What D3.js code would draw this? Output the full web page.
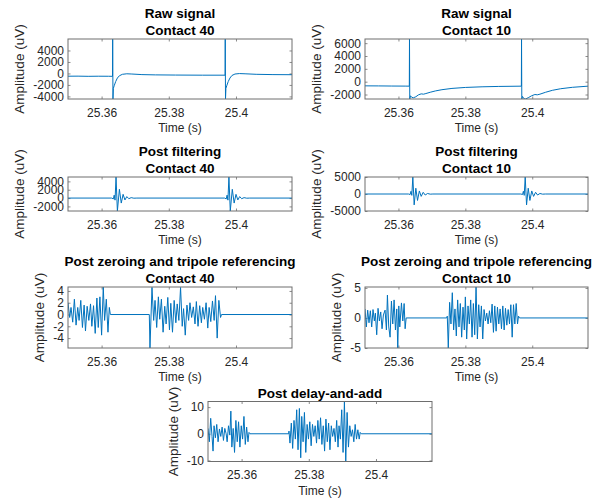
<!DOCTYPE html>
<html>
<head>
<meta charset="utf-8">
<script src="https://cdn.jsdelivr.net/npm/d3@7"></script>
<style>
  body { margin: 0; background: #fff; }
  text { font-family: "Liberation Sans", Arial, Helvetica, sans-serif; }
</style>
</head>
<body>
<div id="chart"></div>
<script>
const W = 602, H = 504;

// time axis (s)
const tStart = 25.35;
const tEnd = 25.41667;
const xTicks = [25.36, 25.38, 25.4];
const xTickLabels = ["25.36", "25.38", "25.4"];

// every series: [ms after 25.35 s, amplitude in uV]
const rawC40 = [[0,-480],[3,-470],[6,-500],[9,-480],[12,-490],[13.25,-500],[13.3,5980],[13.38,-4450],[13.5,-2600],
  [13.8,-2050],[14.2,-1400],[14.7,-800],[15.3,-400],[16.2,-150],[17.5,-60],[19,-100],[22,-200],[26,-250],[32,-280],
  [40,-300],[46.75,-300],[46.8,5980],[46.88,-4450],[47.0,-2600],[47.3,-2050],[47.7,-1400],[48.2,-800],[48.8,-350],
  [49.7,-100],[51,-20],[52.7,-60],[56,-150],[61,-200],[66.67,-220]];

const rawC10 = [[0,-650],[4,-660],[8,-680],[12,-690],[13.25,-700],[13.3,6650],[13.38,-2700],[13.6,-2200],[14.0,-2450],
  [14.5,-2500],[15.2,-2350],[16.0,-2050],[16.8,-1900],[17.5,-1950],[18.2,-1850],[19.5,-1650],[21,-1450],[23,-1250],
  [26,-1050],[30,-900],[35,-800],[40,-740],[46.75,-700],[46.8,6650],[46.88,-2700],[47.1,-2300],[47.5,-2650],[48,-2700],
  [48.8,-2500],[49.8,-2200],[50.8,-2000],[51.5,-2050],[52.3,-1950],[54,-1650],[56,-1350],[58.5,-1100],[62,-880],[66.67,-700]];

const filtC40 = [[0,0],[13.0,0],[13.5,-200],[13.75,700],[14.0,-500],[14.3,5050],[14.7,-3100],[15.3,2100],[15.85,-1200],
  [16.4,900],[16.95,-450],[17.5,350],[18.1,-150],[18.8,100],[19.6,-30],[20.5,0],[46.6,0],[47.1,-200],[47.35,700],
  [47.6,-500],[47.9,5050],[48.3,-3100],[48.9,2100],[49.45,-1200],[50.0,900],[50.55,-450],[51.1,350],[51.7,-150],
  [52.4,100],[53.2,-30],[54.1,0],[66.67,0]];

const filtC10 = [[0,0],[13.0,0],[13.5,-150],[13.75,800],[14.0,-400],[14.3,5000],[14.7,-3200],[15.2,1700],[15.7,-1900],
  [16.25,900],[16.8,-700],[17.4,500],[18.0,-300],[18.7,150],[19.5,-50],[20.3,0],[46.6,0],[47.1,-150],[47.35,800],
  [47.6,-400],[47.9,5000],[48.3,-3200],[48.8,1700],[49.3,-1900],[49.85,900],[50.4,-700],[51.0,500],[51.6,-300],
  [52.3,150],[53.1,-50],[53.9,0],[66.67,0]];

const zeroC40 = [[0,2.0],[0.5,-0.5],[0.9,1.2],[1.4,-1.3],[1.9,2.6],[2.4,-1.8],[2.9,1.2],[3.3,-1.0],[3.8,2.4],[4.3,-2.2],
  [4.8,1.6],[5.2,-2.8],[5.7,1.4],[6.2,-1.0],[6.7,1.8],[7.1,-2.0],[7.6,1.5],[8.1,-3.2],[8.6,2.8],[9.0,-2.2],[9.5,3.0],
  [10.0,-3.5],[10.5,4.67],[10.9,-1.0],[11.4,2.6],[11.9,-3.0],[12.3,1.2],[12.6,0],[24.2,0],[24.4,-5.68],[25.0,4.6],
  [25.5,-1.0],[25.9,2.4],[26.4,-2.2],[26.9,3.0],[27.3,-0.8],[27.8,2.6],[28.3,-3.0],[28.8,1.4],[29.2,-1.6],[29.7,2.9],
  [30.2,-2.6],[30.6,1.9],[31.1,-3.0],[31.6,2.4],[32.1,-1.4],[32.5,1.8],[33.0,-1.0],[33.5,4.6],[34.0,-2.0],[34.4,1.0],
  [34.9,-3.5],[35.4,1.6],[35.9,-1.0],[36.3,2.0],[36.8,-0.5],[37.3,1.3],[37.8,-1.6],[38.2,2.2],[38.7,-2.0],[39.2,1.5],
  [39.7,-1.4],[40.1,1.2],[40.6,-0.8],[41.1,2.0],[41.6,-2.3],[42.0,1.2],[42.5,-1.2],[43.0,2.3],[43.5,-1.0],[43.9,3.2],
  [44.4,-4.0],[44.9,2.4],[45.4,-0.5],[45.7,0],[66.67,0]];

const zeroC10 = [[0,1.5],[0.4,-1.5],[0.8,1.3],[1.2,-0.8],[1.6,1.2],[2.0,-1.5],[2.4,1.4],[2.8,-0.5],[3.1,0.8],[3.5,-2.8],
  [3.9,1.6],[4.3,-0.5],[4.7,1.0],[5.1,-1.8],[5.5,0.5],[6.0,1.3],[6.4,-2.0],[6.7,3.8],[7.1,-1.5],[7.5,-3.2],[7.9,2.8],
  [8.3,-1.0],[8.7,3.0],[9.1,-2.0],[9.5,1.5],[9.8,-5.0],[10.1,2.0],[10.4,-1.5],[10.9,2.5],[11.3,-0.5],[11.7,2.4],
  [12.0,-1.8],[12.3,0],[24.4,0],[24.6,0.3],[24.9,-5.0],[25.3,2.6],[25.7,-1.0],[26.1,4.2],[26.5,-2.0],[26.9,1.5],
  [27.3,-3.0],[27.7,3.0],[28.1,-1.5],[28.5,2.4],[28.9,-3.2],[29.3,1.8],[29.7,-2.0],[30.0,3.5],[30.4,-3.5],[30.8,2.0],
  [31.2,-1.0],[31.6,3.0],[32.0,-3.2],[32.4,2.4],[32.8,-2.8],[33.2,5.15],[33.6,-3.5],[34.0,2.2],[34.4,-1.5],[34.8,2.0],
  [35.2,-3.5],[35.6,1.4],[36.0,-0.5],[36.4,0.8],[36.8,-1.0],[37.2,1.2],[37.6,-0.8],[38.0,2.3],[38.4,-2.4],[38.8,2.0],
  [39.2,-2.2],[39.6,1.8],[40.0,-1.0],[40.4,1.5],[40.8,-1.8],[41.2,2.0],[41.6,-2.0],[42.0,1.6],[42.4,-1.2],[42.8,1.4],
  [43.2,-1.0],[43.6,2.2],[44.0,-3.2],[44.4,2.2],[44.8,-1.0],[45.2,2.4],[45.6,-1.0],[45.9,0.3],[46.2,0],[66.67,0]];

const delayAdd = [[0,2.0],[0.4,-3.0],[0.8,5.8],[1.2,-1.0],[1.5,-6.5],[1.8,3.0],[2.2,-1.5],[2.6,3.5],[3.0,-3.0],[3.4,1.8],
  [3.8,-1.0],[4.2,2.5],[4.6,-2.5],[5.0,2.0],[5.4,0.0],[5.7,-3.0],[6.1,3.0],[6.5,-0.5],[6.8,8.5],[7.1,-5.0],[7.5,2.0],
  [7.9,-7.0],[8.3,5.0],[8.7,-3.0],[9.1,4.5],[9.5,-5.0],[9.9,3.0],[10.3,-2.0],[10.7,6.5],[11.1,-4.0],[11.5,2.5],
  [11.9,-3.0],[12.2,0.5],[12.5,0],[24.0,0],[24.1,1.0],[24.4,-3.5],[24.8,4.0],[25.2,-5.5],[25.6,5.0],[26.0,-2.0],
  [26.4,9.0],[26.8,-6.0],[27.2,9.5],[27.6,-9.0],[27.9,6.5],[28.3,-3.0],[28.7,8.0],[29.1,-7.0],[29.5,3.5],[29.9,-2.0],
  [30.3,4.5],[30.7,-4.5],[31.1,3.5],[31.5,-1.0],[31.9,3.0],[32.3,-3.5],[32.7,5.0],[33.1,-2.0],[33.5,6.0],[33.9,-4.0],
  [34.3,3.0],[34.7,-6.5],[35.1,5.5],[35.5,-3.0],[35.9,4.0],[36.3,-6.0],[36.7,3.0],[37.1,-1.0],[37.5,2.0],[37.9,-3.0],
  [38.3,5.0],[38.7,-5.0],[39.0,3.0],[39.4,-2.0],[39.8,9.0],[40.2,-7.0],[40.6,12.1],[41.0,-10.4],[41.4,8.0],[41.8,-5.0],
  [42.2,3.0],[42.6,-1.0],[43.0,1.5],[43.4,-3.0],[43.8,3.5],[44.2,-2.0],[44.6,1.5],[45.0,-2.0],[45.3,0.5],[45.6,0],[66.67,0]];

const series = [rawC40, rawC10, filtC40, filtC10, zeroC40, zeroC10, delayAdd];
const titles = [["Raw signal", "Contact 40"], ["Raw signal", "Contact 10"],
  ["Post filtering", "Contact 40"], ["Post filtering", "Contact 10"],
  ["Post zeroing and tripole referencing", "Contact 40"], ["Post zeroing and tripole referencing", "Contact 10"],
  ["Post delay-and-add"]];
const yLims = [[-4450, 6000], [-2700, 6650], [-3100, 5050], [-5000, 5000], [-5.68, 4.67], [-5, 5.15], [-10.4, 12.1]];
const yTicks = [[-4000, -2000, 0, 2000, 4000], [-2000, 0, 2000, 4000, 6000], [-2000, 0, 2000, 4000],
  [-5000, 0, 5000], [-4, -2, 0, 2, 4], [-5, 0, 5], [-10, 0, 10]];

// axes boxes in pixels
const boxes = [
  {x0: 68, x1: 292, y0: 39, y1: 99},
  {x0: 365, x1: 588, y0: 39, y1: 99},
  {x0: 68, x1: 292, y0: 177, y1: 211},
  {x0: 365, x1: 588, y0: 177, y1: 211},
  {x0: 68, x1: 292, y0: 287, y1: 348},
  {x0: 365, x1: 588, y0: 287, y1: 348},
  {x0: 208, x1: 432, y0: 401.5, y1: 461.5}
];

const lineColor = "#0072bd";
const axisColor = "#6e6e6e";
const textColor = "#262626";
const tickLen = 2.5;
const tickFont = 12;

const svg = d3.select("#chart").append("svg")
  .attr("width", W)
  .attr("height", H)
  .style("display", "block");

svg.append("rect").attr("width", W).attr("height", H).attr("fill", "#fff");

function styleAxis(g, withText) {
  g.select(".domain").remove();
  g.selectAll(".tick line").attr("stroke", axisColor).attr("stroke-width", 0.8);
  g.selectAll(".tick text")
    .attr("fill", textColor)
    .style("font-size", tickFont + "px")
    .style("font-family", '"Liberation Sans", Arial, sans-serif');
  if (!withText) g.selectAll(".tick text").remove();
}

series.forEach((data, i) => {
  const b = boxes[i];
  const x = d3.scaleLinear().domain([tStart, tEnd]).range([b.x0, b.x1]);
  const y = d3.scaleLinear().domain(yLims[i]).range([b.y1, b.y0]);

  const g = svg.append("g");

  // axes (ticks point inward, like matlab)
  g.append("g").attr("transform", `translate(0,${b.y1})`)
    .call(d3.axisBottom(x).tickValues(xTicks).tickSizeInner(-tickLen).tickSizeOuter(0).tickPadding(9)
      .tickFormat((d, k) => xTickLabels[k]))
    .call(a => styleAxis(a, true));
  g.append("g").attr("transform", `translate(0,${b.y0})`)
    .call(d3.axisTop(x).tickValues(xTicks).tickSizeInner(-tickLen).tickSizeOuter(0))
    .call(a => styleAxis(a, false));

  const yAxisG = g.append("g").attr("transform", `translate(${b.x0},0)`)
    .call(d3.axisLeft(y).tickValues(yTicks[i]).tickSizeInner(-tickLen).tickSizeOuter(0).tickPadding(4)
      .tickFormat(d => String(d)))
    .call(a => styleAxis(a, true));
  g.append("g").attr("transform", `translate(${b.x1},0)`)
    .call(d3.axisRight(y).tickValues(yTicks[i]).tickSizeInner(-tickLen).tickSizeOuter(0))
    .call(a => styleAxis(a, false));

  // signal trace
  const clipId = "clip" + i;
  svg.append("clipPath").attr("id", clipId).append("rect")
    .attr("x", b.x0).attr("y", b.y0).attr("width", b.x1 - b.x0).attr("height", b.y1 - b.y0);

  const line = d3.line()
    .x(d => x(tStart + d[0] / 1000))
    .y(d => y(d[1]));

  g.append("path")
    .datum(data)
    .attr("clip-path", `url(#${clipId})`)
    .attr("fill", "none")
    .attr("stroke", lineColor)
    .attr("stroke-width", 1)
    .attr("stroke-linejoin", "round")
    .attr("d", line);

  // box
  g.append("rect")
    .attr("x", b.x0).attr("y", b.y0)
    .attr("width", b.x1 - b.x0).attr("height", b.y1 - b.y0)
    .attr("fill", "none")
    .attr("stroke", axisColor)
    .attr("stroke-width", 1);

  // title
  const cx = (b.x0 + b.x1) / 2;
  const tl = titles[i];
  tl.forEach((t, k) => {
    g.append("text")
      .attr("x", cx)
      .attr("y", b.y0 - 4 - (tl.length - 1 - k) * 17)
      .attr("text-anchor", "middle")
      .attr("font-size", 13.5)
      .attr("font-weight", "bold")
      .attr("fill", "#000")
      .text(t);
  });

  // x label
  g.append("text")
    .attr("x", cx)
    .attr("y", b.y1 + 33)
    .attr("text-anchor", "middle")
    .attr("font-size", 12)
    .attr("fill", textColor)
    .text("Time (s)");

  // y label, placed left of the widest tick label
  let maxW = 0;
  yAxisG.selectAll(".tick text").each(function () {
    maxW = Math.max(maxW, this.getComputedTextLength());
  });
  const lx = b.x0 - 4 - maxW - 9;
  g.append("text")
    .attr("transform", `translate(${lx},${(b.y0 + b.y1) / 2}) rotate(-90)`)
    .attr("text-anchor", "middle")
    .attr("font-size", 13.5)
    .attr("fill", textColor)
    .text("Amplitude (uV)");
});
</script>
</body>
</html>
